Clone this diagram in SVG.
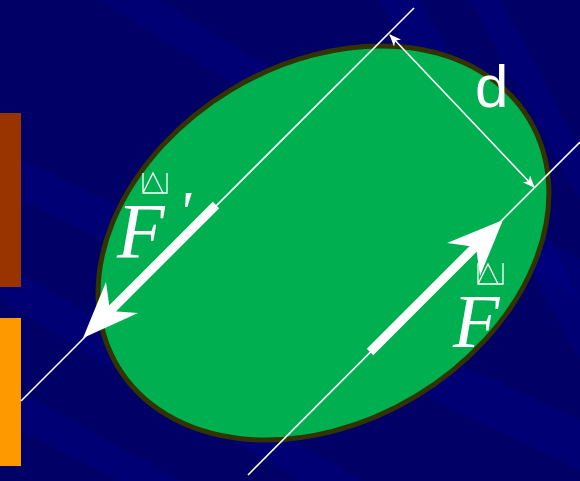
<svg xmlns="http://www.w3.org/2000/svg" width="580" height="481" viewBox="0 0 580 481">
<style>
.thin{stroke:#fff;stroke-width:1.6;fill:none}
.stem{stroke:#fff;stroke-width:9;fill:none}
.head{fill:#fff}
.lbl{font-family:"Liberation Serif","Times New Roman",serif;font-style:italic;fill:#fff}
.hat{stroke:#fff;stroke-width:1.3;fill:none}
.streak{fill:#0000a8;opacity:0.22}
</style>
<defs>
<marker id="ah" viewBox="0 0 12 10" refX="11" refY="5" markerWidth="12" markerHeight="10" markerUnits="userSpaceOnUse" orient="auto-start-reverse">
<path d="M0,0 L12,5 L0,10 L3,5 Z" fill="#fff"/>
</marker>
</defs>
<g id="background">
<rect width="580" height="481" fill="#000066"/>
<polygon class="streak" points="0,150 0,190 580,470 580,420"/>
<polygon class="streak" points="0,260 0,300 300,481 360,481"/>
<polygon class="streak" points="380,0 420,0 580,300 580,360"/>
<polygon class="streak" points="470,0 500,0 580,150 580,200"/>
<polygon class="streak" points="100,0 160,0 580,260 580,300"/>
<polygon class="streak" points="0,380 0,420 120,481 180,481"/>
<rect x="0" y="113" width="21" height="174" fill="#993300"/>
<rect x="0" y="318" width="21" height="148" fill="#ff9900"/>
</g>
<g id="body">
<ellipse cx="323.5" cy="243" rx="240" ry="179" transform="rotate(-31 323.5 243)" fill="#00b050" stroke="#333300" stroke-width="5"/>
</g>
<g id="connectors">
<line class="thin" x1="414" y1="8" x2="21" y2="401"/>
<line class="thin" x1="580" y1="142" x2="248" y2="475"/>
<line class="thin" x1="390" y1="35" x2="534" y2="187" marker-start="url(#ah)" marker-end="url(#ah)"/>
</g>
<g id="force-f-prime">
<line class="stem" x1="216" y1="205" x2="106" y2="315"/>
<polygon class="head" points="83,338 106,282 110,311 138,313"/>
<text class="lbl" x="117" y="257" font-size="78">F</text>
<text class="lbl" x="178" y="232" font-size="60" font-style="normal">'</text>
<path class="hat" d="M143,173 V193 H167 V173 M143,193 L153,173 L163,193"/>
</g>
<g id="force-f">
<line class="stem" x1="370" y1="352" x2="482" y2="240"/>
<polygon class="head" points="503,220 447,243 476,247 480,276"/>
<text class="lbl" x="453" y="347" font-size="76">F</text>
<path class="hat" d="M478,263 V284 H503 V263 M478,284 L488,264 L498,284"/>
</g>
<g id="distance-label">
<text x="475" y="107" font-family="Liberation Sans, Arial, sans-serif" font-size="60" fill="#fff">d</text>
</g>
</svg>
